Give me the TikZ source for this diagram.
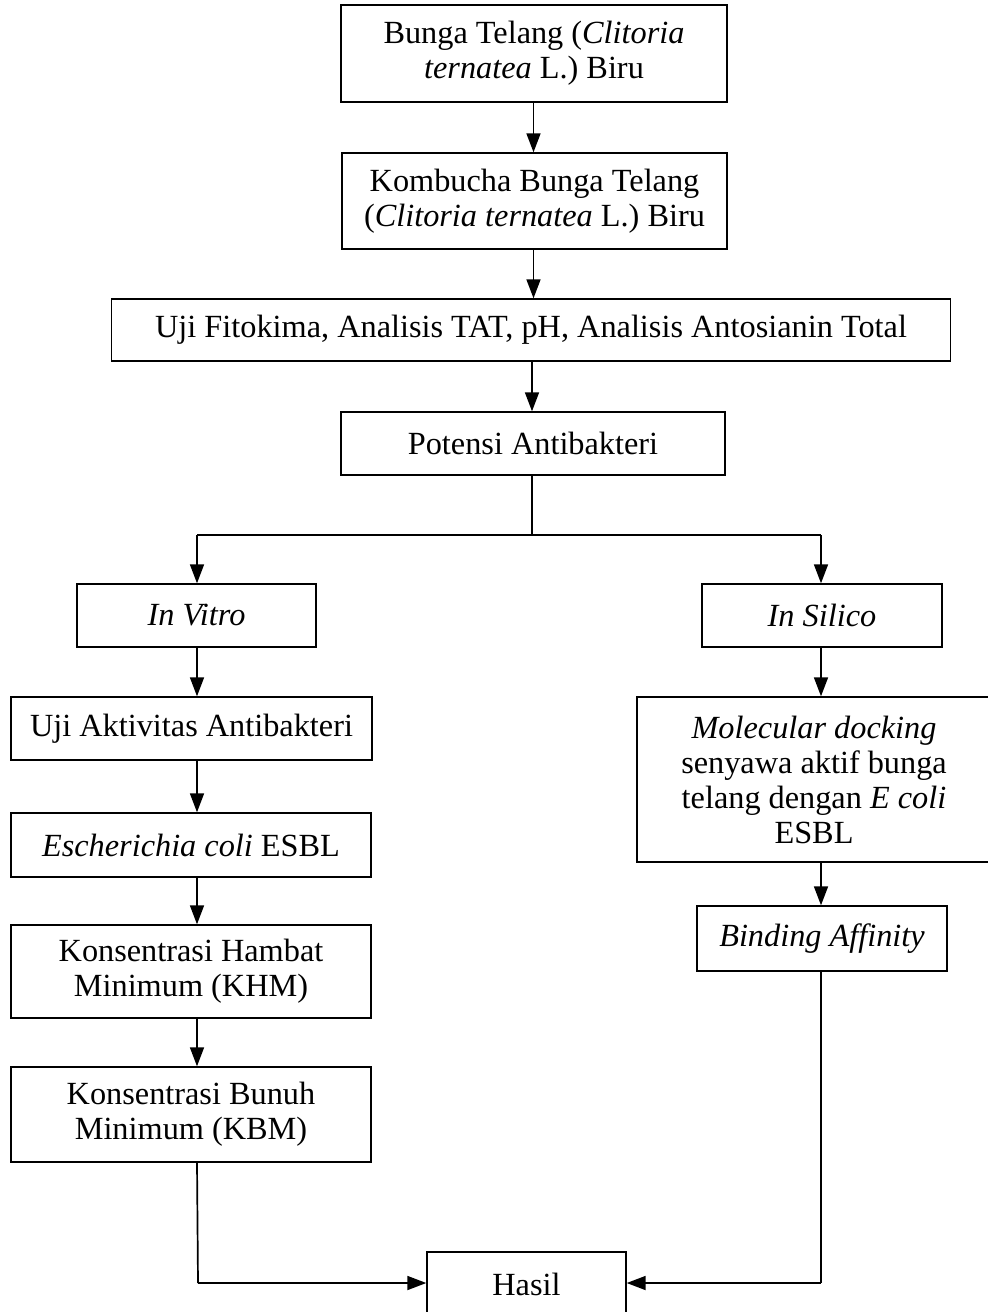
\documentclass[tikz,border=0pt]{standalone}
\usepackage{fontspec}
\setmainfont{Liberation Serif}
\usetikzlibrary{arrows.meta}
\begin{document}
\begin{tikzpicture}[x=1pt,y=-1pt,
  box/.style={draw, line width=1.4pt, align=center, inner sep=0pt,
    font=\fontsize{32.3}{35}\selectfont},
  arr/.style={line width=1.7pt, -{Triangle[length=19pt,width=14pt]}},
  ln/.style={line width=1.7pt}]
\useasboundingbox (0,0) rectangle (988,1312);
\node[box, minimum width=386pt, minimum height=97pt] (b1) at (534,53.5) {Bunga Telang (\textit{Clitoria}\\\textit{ternatea} L.) Biru};
\node[box, minimum width=385pt, minimum height=96pt] (b2) at (534.5,201) {Kombucha Bunga Telang\\(\textit{Clitoria ternatea} L.) Biru};
\node[box, minimum width=839pt, minimum height=62pt] (b3) at (531,330) {Uji Fitokima, Analisis TAT, pH, Analisis Antosianin Total};
\node[box, minimum width=384pt, minimum height=63pt] (b4) at (533,443.5) {Potensi Antibakteri};
\node[box, minimum width=239pt, minimum height=63pt] (iv) at (196.5,615.5) {\textit{In Vitro}};
\node[box, minimum width=240pt, minimum height=63pt] (is) at (822,615.5) {\textit{In Silico}};
\node[box, minimum width=361pt, minimum height=63pt] (uji) at (191.5,728.5) {Uji Aktivitas Antibakteri};
\node[box, minimum width=360pt, minimum height=64pt] (ec) at (191,845) {\textit{Escherichia coli} ESBL};
\node[box, minimum width=360pt, minimum height=93pt] (khm) at (191,971.5) {Konsentrasi Hambat\\Minimum (KHM)};
\node[box, minimum width=360pt, minimum height=95pt] (kbm) at (191,1114.5) {Konsentrasi Bunuh\\Minimum (KBM)};
\node[box, minimum width=354pt, minimum height=165pt] (md) at (814,779.5) {\textit{Molecular docking}\\senyawa aktif bunga\\telang dengan \textit{E coli}\\ESBL};
\node[box, minimum width=250pt, minimum height=65pt] (ba) at (822,938.5) {\textit{Binding Affinity}};
\node[box, minimum width=199pt, minimum height=64pt] (hasil) at (526.5,1284) {Hasil};
\coordinate (split) at (532,535);
\coordinate (sl) at (197,535);
\coordinate (sr) at (821,535);
\coordinate (kl) at (198,1283);
\coordinate (kr) at (821,1283);
\draw[arr] (533.5,102) coordinate (a1) -- (a1 |- b2.north);
\draw[arr] (533.5,249) coordinate (a2) -- (a2 |- b3.north);
\draw[arr] (532,361) coordinate (a3) -- (a3 |- b4.north);
\draw[ln] (split |- b4.south) -- (split);
\draw[ln] (sl) -- (sr);
\draw[arr] (sl) -- (sl |- iv.north);
\draw[arr] (sr) -- (sr |- is.north);
\draw[arr] (sl |- iv.south) -- (sl |- uji.north);
\draw[arr] (sl |- uji.south) -- (sl |- ec.north);
\draw[arr] (sl |- ec.south) -- (sl |- khm.north);
\draw[arr] (sl |- khm.south) -- (sl |- kbm.north);
\draw[arr] (sr |- is.south) -- (sr |- md.north);
\draw[arr] (sr |- md.south) -- (sr |- ba.north);
\draw[ln] (sl |- kbm.south) -- (kl);
\draw[arr] (kl) -- (hasil.west |- kl);
\draw[ln] (sr |- ba.south) -- (kr);
\draw[arr] (kr) -- (hasil.east |- kr);
\end{tikzpicture}
\end{document}
